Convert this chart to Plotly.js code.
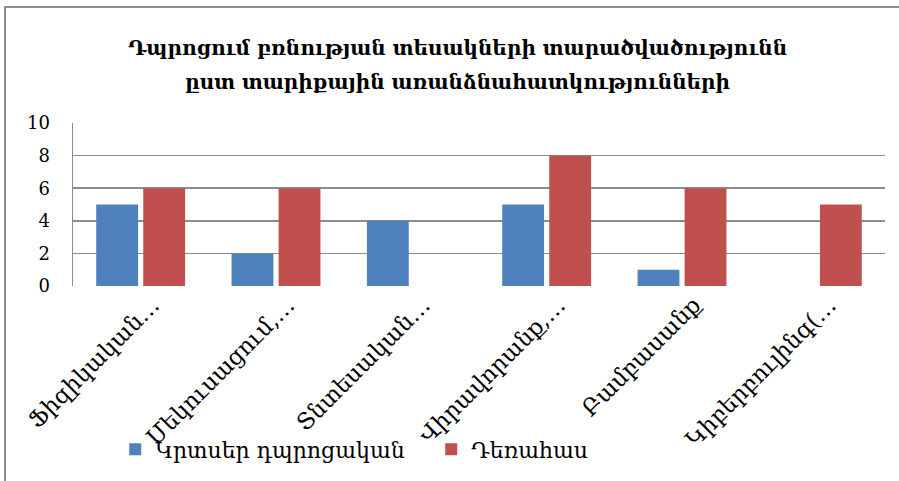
<!DOCTYPE html>
<html>
<head>
<meta charset="utf-8">
<script src="https://cdn.plot.ly/plotly-3.0.1.min.js"></script>
<style>
  html, body { margin: 0; padding: 0; background: #ffffff; }
  #wrap { position: relative; width: 899px; height: 481px; overflow: hidden; }
  #chart { position: absolute; left: 0; top: 0; width: 899px; height: 481px; }
  #frame { position: absolute; left: 4px; top: 6px; width: 1000px; height: 600px;
           border-left: 2px solid #8c8c8c; border-top: 2px solid #8c8c8c; pointer-events: none; }
</style>
</head>
<body>
<div id="wrap">
  <div id="chart"></div>
  <div id="frame"></div>
</div>
<script>
const categories = ["Ֆիզիկական…", "Մեկուսացում,…", "Տնտեսական…", "Վիրավորանք,…", "Բամբասանք", "Կիբերբուլինգ(…"];
const seriesNames = ["Կրտսեր դպրոցական", "Դեռահաս"];
const juniorValues = [5, 2, 4, 5, 1, 0];
const teenValues = [6, 6, 0, 8, 6, 5];
const yTicks = [0, 2, 4, 6, 8, 10];
const titleLines = ["Դպրոցում բռնության տեսակների տարածվածությունն", "ըստ տարիքային առանձնահատկությունների"];

const FONT = "DejaVu Serif, serif";

const traces = [
  { type: "bar", name: seriesNames[0], x: categories, y: juniorValues,
    marker: { color: "#4f81bd" }, hoverinfo: "none" },
  { type: "bar", name: seriesNames[1], x: categories, y: teenValues,
    marker: { color: "#c0504d" }, hoverinfo: "none" }
];

const layout = {
  width: 899, height: 481,
  margin: { l: 73, r: 14, t: 123, b: 194 },
  paper_bgcolor: "#ffffff", plot_bgcolor: "#ffffff",
  font: { family: FONT, color: "#000000", size: 17 },
  title: { text: titleLines[0], x: 0.509, xanchor: "center", y: 0.9, yanchor: "middle",
           font: { family: FONT, size: 20, color: "#000000", weight: "bold" } },
  annotations: [
    { text: titleLines[1], xref: "paper", yref: "paper", x: 0.474, y: 1.25,
      xanchor: "center", yanchor: "middle", showarrow: false,
      font: { family: FONT, size: 20, color: "#000000", weight: "bold" } }
  ],
  barmode: "group", bargap: 0.305, bargroupgap: 0.11,
  xaxis: { type: "category", tickangle: -45, showgrid: false, showline: false, zeroline: false,
           ticks: "", tickfont: { family: FONT, size: 23 }, ticklabelstandoff: 0, ticklabelshift: 12 },
  yaxis: { range: [0, 10], tickvals: yTicks, showgrid: true, gridcolor: "#8c8c8c", gridwidth: 1.5,
           showline: true, linecolor: "#8c8c8c", linewidth: 1.5, zeroline: false, ticks: "",
           tickfont: { family: FONT, size: 18 }, ticklabelstandoff: 18 },
  showlegend: true,
  legend: { orientation: "h", x: 0.052, xanchor: "left", y: -0.99, yanchor: "middle",
            font: { family: FONT, size: 22 }, entrywidth: 271, entrywidthmode: "pixels",
            itemwidth: 30, bgcolor: "rgba(0,0,0,0)" }
};

Plotly.newPlot("chart", traces, layout, { staticPlot: true, displayModeBar: false });
</script>
</body>
</html>
